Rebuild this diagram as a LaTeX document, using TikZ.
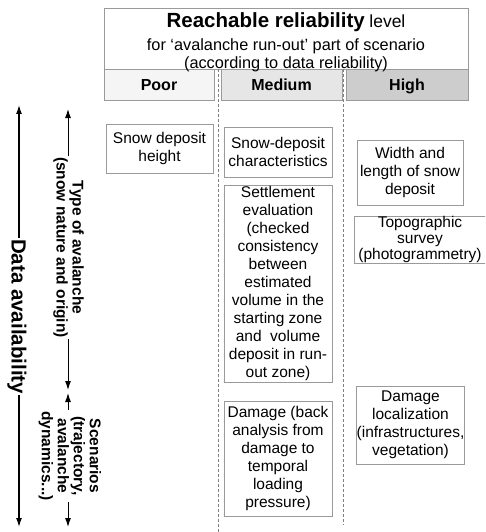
\documentclass[tikz,border=0pt]{standalone}
\usepackage{fontspec}
\setmainfont{Liberation Sans}
\usetikzlibrary{arrows.meta}
\definecolor{edgegray}{HTML}{9A9A9A}
\definecolor{poorfill}{HTML}{F5F5F5}
\definecolor{medfill}{HTML}{E6E6E6}
\definecolor{highfill}{HTML}{CDCDCD}
\definecolor{dashgray}{HTML}{808080}
\begin{document}
\begin{tikzpicture}[x=1pt,y=-1pt,
  item/.style={draw=edgegray, line width=0.8pt, fill=white, inner sep=0pt,
    align=center, font=\fontsize{15.5}{18}\selectfont},
  levelcell/.style={draw=edgegray, line width=0.8pt, inner sep=0pt,
    minimum height=31pt, text height=11.5pt, text depth=0pt,
    font=\bfseries\fontsize{16}{19}\selectfont},
  hdrtext/.style={anchor=base, inner sep=0pt, font=\fontsize{16.3}{19}\selectfont},
  sidetext/.style={rotate=-90, fill=white, inner sep=1.5pt, align=center,
    font=\bfseries\fontsize{15.5}{16}\selectfont},
  axis/.style={line width=1pt,
    {Latex[length=9pt,width=6pt]}-{Latex[length=9pt,width=6pt]}},
  divider/.style={draw=dashgray, line width=0.6pt, dash pattern=on 3pt off 2pt}]

\useasboundingbox (0,0) rectangle (485,532);
\clip (0,0) rectangle (485,532);

% title block
\node[draw=edgegray, line width=0.8pt, minimum width=364pt, minimum height=61pt,
  inner sep=0pt] (head) at (286,38.5) {};

% reliability levels
\node[levelcell, fill=poorfill, minimum width=110pt] (poor) at (159,84.5) {Poor};
\node[levelcell, fill=medfill, minimum width=121pt] (medium) at (281.5,84.5) {Medium};
\node[levelcell, fill=highfill, minimum width=122pt] (high) at (407,84.5) {High};

\node[hdrtext] (title) at (286,28)
  {{\bfseries\fontsize{20.5}{24}\selectfont Reachable reliability} {\fontsize{17.5}{20}\selectfont level}};
\node[hdrtext] (sub1) at (286,50.5) {for ‘avalanche run-out’ part of scenario};
\node[hdrtext] (sub2) at (286,68.5) {(according to data reliability)};

% column dividers
\coordinate (d1top) at (218,69);
\coordinate (d1bot) at (218,532);
\coordinate (d2top) at (343,69);
\coordinate (d2bot) at (343,525);
\draw[divider] (d1top) -- (d1bot);
\draw[divider] (d2top) -- (d2bot);

% data items
\node[item, minimum width=107pt, minimum height=49pt] (sdh) at (159.5,148.5)
  {Snow deposit\\height};
\node[item, minimum width=108pt, minimum height=50pt] (sdc) at (278,152)
  {Snow-deposit\\characteristics};
\node[item, minimum width=108pt, minimum height=197pt] (settle) at (278,283.5)
  {Settlement\\evaluation\\(checked\\consistency\\between\\estimated\\volume in the\\starting zone\\and\ \ volume\\deposit in run-\\out zone)};
\node[item, minimum width=108pt, minimum height=115pt] (dmg) at (278,458.5)
  {Damage (back\\analysis from\\damage to\\temporal\\loading\\pressure)};
\node[item, minimum width=106pt, minimum height=65pt] (wl) at (410,172.5)
  {Width and\\length of snow\\deposit};
\node[item, minimum width=132pt, minimum height=47pt,
  font=\fontsize{15.5}{16}\selectfont] (topo) at (420,239.5)
  {Topographic\\survey\\(photogrammetry)};
\node[item, minimum width=107pt, minimum height=78pt] (dloc) at (410.5,425)
  {Damage\\localization\\(infrastructures,\\vegetation)};

% availability axes
\coordinate (datop) at (19,105);
\coordinate (dabot) at (19,527);
\draw[axis, line width=1.3pt] (datop) -- (dabot);
\node[sidetext, font=\bfseries\fontsize{20.5}{24}\selectfont] (dalabel) at (17,316.5)
  {Data availability};

\coordinate (ttop) at (68,109);
\coordinate (tbot) at (68,390);
\coordinate (stop) at (68,393);
\coordinate (sbot) at (68,527);
\draw[axis] (ttop) -- (tbot);
\draw[axis] (stop) -- (sbot);
\node[sidetext] (tlabel) at (68.5,247.5) {Type of avalanche\\(snow nature and origin)};
\node[sidetext] (slabel) at (70,456) {Scenarios\\(trajectory,\\avalanche\\dynamics...)};

\end{tikzpicture}
\end{document}
